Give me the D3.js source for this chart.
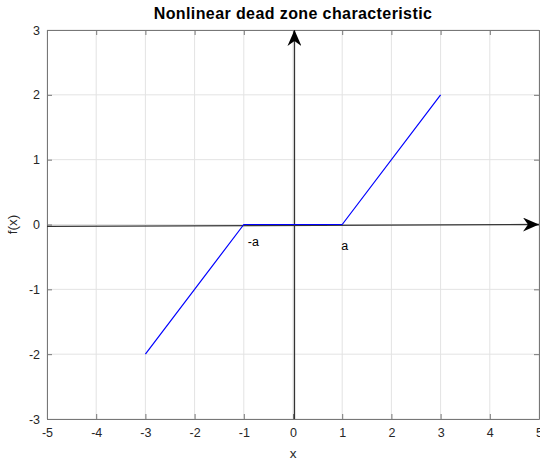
<!DOCTYPE html>
<html>
<head>
<meta charset="utf-8">
<script src="https://cdn.jsdelivr.net/npm/d3@7"></script>
<style>
  body { margin: 0; background: #fff; }
  svg { display: block; font-family: "Liberation Sans", Arial, sans-serif; }
</style>
</head>
<body>
<svg id="chart" width="540" height="461"></svg>
<script>
// dead zone characteristic, a = 1
var xs = [-3, -1, 1, 3];
var ys = [-2, 0, 0, 2];
var xTicks = [-5, -4, -3, -2, -1, 0, 1, 2, 3, 4, 5];
var yTicks = [-3, -2, -1, 0, 1, 2, 3];
// annotation arrows [x0, y0, x1, y1]
var arrowX = [-5, -0.03, 5, 0];
var arrowY = [0.03, -3, 0.03, 3];
var labels = ['-a', 'a'];
var labelX = [-0.92, 0.98];
var labelY = [-0.27, -0.33];

var margin = {top: 30, right: 1, bottom: 42, left: 47};
var svg = d3.select('#chart');
var width = 540 - margin.left - margin.right;
var height = 461 - margin.top - margin.bottom;

var x = d3.scaleLinear().domain([-5, 5]).range([0, width]);
var y = d3.scaleLinear().domain([-3, 3]).range([height, 0]);

var fmt = function(d){return String(d);};

var g = svg.append('g')
    .attr('transform', 'translate(' + margin.left + ',' + margin.top + ')');

//grid
g.append('g').selectAll('line').data(xTicks).enter().append('line')
    .attr('x1', function(d){return x(d);}).attr('x2', function(d){return x(d);})
    .attr('y1', 0).attr('y2', height)
    .attr('stroke', '#e3e3e3').attr('stroke-width', 1);
g.append('g').selectAll('line').data(yTicks).enter().append('line')
    .attr('y1', function(d){return y(d);}).attr('y2', function(d){return y(d);})
    .attr('x1', 0).attr('x2', width)
    .attr('stroke', '#e3e3e3').attr('stroke-width', 1);

//axes
var axisColor = '#777';
var xAxis = g.append('g').attr('transform', 'translate(0,' + height + ')')
    .call(d3.axisBottom(x).tickValues(xTicks).tickFormat(fmt).tickSizeInner(-5).tickSizeOuter(0).tickPadding(9));
var yAxis = g.append('g')
    .call(d3.axisLeft(y).tickValues(yTicks).tickFormat(fmt).tickSizeInner(-5).tickSizeOuter(0).tickPadding(7));
var xTop = g.append('g')
    .call(d3.axisTop(x).tickValues(xTicks).tickSizeInner(-5).tickSizeOuter(0).tickFormat(''));
var yRight = g.append('g').attr('transform', 'translate(' + width + ',0)')
    .call(d3.axisRight(y).tickValues(yTicks).tickSizeInner(-5).tickSizeOuter(0).tickFormat(''));

[xAxis, yAxis, xTop, yRight].forEach(function(a){
    a.select('.domain').attr('stroke', axisColor);
    a.selectAll('.tick line').attr('stroke', axisColor);
    a.selectAll('.tick text').attr('fill', '#262626')
        .style('font-family', '"Liberation Sans", Arial, sans-serif').style('font-size', '12.5px');
});

//annotation arrows
svg.append('defs').append('marker')
    .attr('id', 'head')
    .attr('viewBox', '0 0 16 14')
    .attr('refX', 16).attr('refY', 7)
    .attr('markerWidth', 16).attr('markerHeight', 14)
    .attr('markerUnits', 'userSpaceOnUse')
    .attr('orient', 'auto')
    .append('path')
    .attr('d', 'M0,0 L16,7 L0,14 L5,7 Z')
    .attr('fill', '#000');

[arrowX, arrowY].forEach(function(a){
    g.append('line')
        .attr('x1', x(a[0])).attr('y1', y(a[1]))
        .attr('x2', x(a[2])).attr('y2', y(a[3]))
        .attr('stroke', '#333').attr('stroke-width', 1.3)
        .attr('marker-end', 'url(#head)');
});

//curve
var line = d3.line()
    .x(function(d){return x(d[0]);})
    .y(function(d){return y(d[1]);});
g.append('path')
    .datum(d3.zip(xs, ys))
    .attr('d', line)
    .attr('fill', 'none')
    .attr('stroke', '#0000ff')
    .attr('stroke-width', 1.2);

//text labels
g.selectAll('.lbl').data(labels).enter().append('text')
    .attr('class', 'lbl')
    .attr('x', function(d, i){return x(labelX[i]);})
    .attr('y', function(d, i){return y(labelY[i]);})
    .attr('dy', '0.35em')
    .attr('fill', '#000')
    .style('font-size', '12.5px')
    .text(function(d){return d;});

//titles
svg.append('text')
    .attr('x', margin.left + width / 2).attr('y', 19)
    .attr('text-anchor', 'middle')
    .style('font-size', '16px').style('font-weight', 'bold')
    .style('letter-spacing', '0.4px')
    .attr('fill', '#000')
    .text('Nonlinear dead zone characteristic');
svg.append('text')
    .attr('x', margin.left + width / 2).attr('y', 458)
    .attr('text-anchor', 'middle')
    .style('font-size', '13.5px')
    .attr('fill', '#262626')
    .text('x');
svg.append('text')
    .attr('transform', 'translate(17,' + (margin.top + height / 2) + ') rotate(-90)')
    .attr('text-anchor', 'middle')
    .style('font-size', '13.5px')
    .attr('fill', '#262626')
    .text('f(x)');
</script>
</body>
</html>
